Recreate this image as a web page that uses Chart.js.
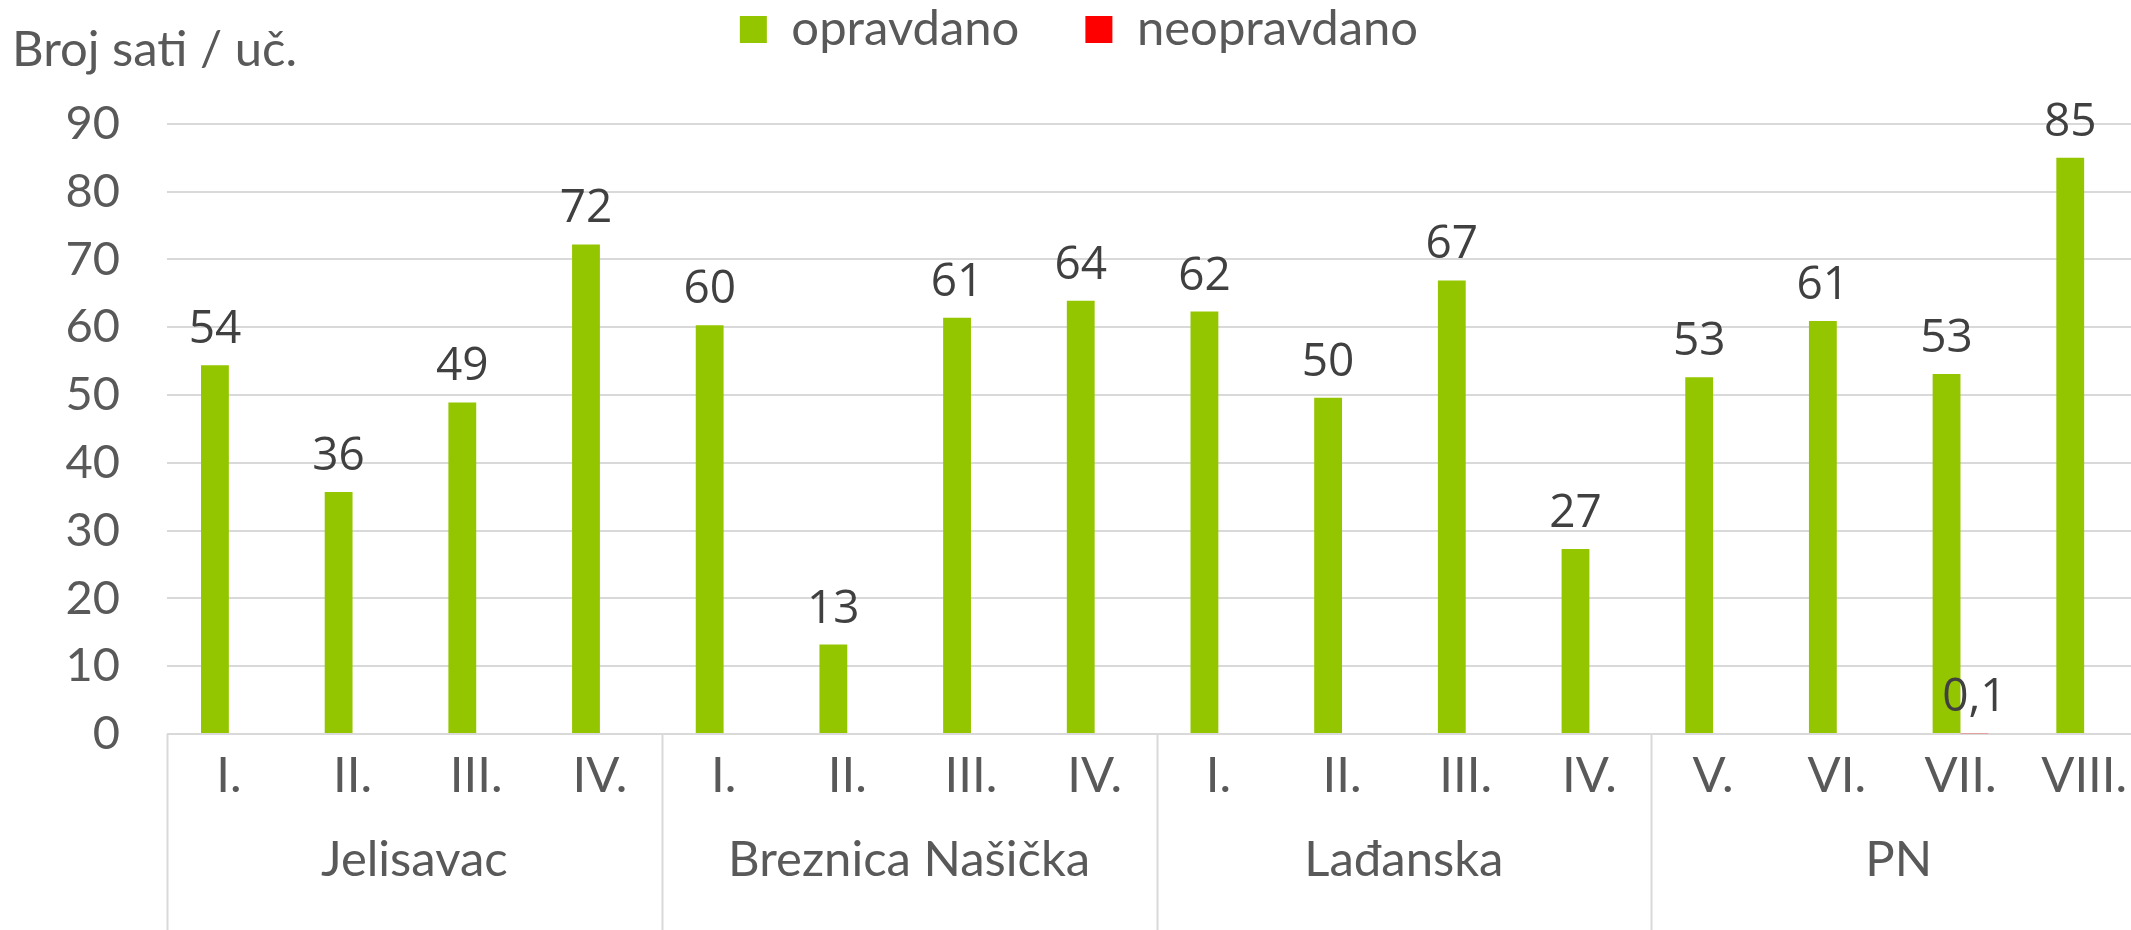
<!DOCTYPE html>
<html>
<head>
<meta charset="utf-8">
<script src="https://cdn.jsdelivr.net/npm/chart.js@4.4.0/dist/chart.umd.min.js"></script>
<style>
    html, body { margin: 0; padding: 0; background: #fff; overflow: hidden; }
    #wrap { width: 2131px; height: 930px; overflow: hidden; }
    canvas { display: block; }
</style>
</head>
<body>
<div id="wrap"><canvas id="izostanciChart" width="2146" height="930"></canvas></div>
<script>
const razredi = ['I.', 'II.', 'III.', 'IV.', 'I.', 'II.', 'III.', 'IV.', 'I.', 'II.', 'III.', 'IV.', 'V.', 'VI.', 'VII.', 'VIII.'];
const skole = ['Jelisavac', 'Breznica Našička', 'Lađanska', 'PN'];
const razredaPoSkoli = [4, 4, 4, 4];
const opravdano = [54.4, 35.7, 48.9, 72.2, 60.3, 13.2, 61.4, 63.9, 62.3, 49.6, 66.9, 27.3, 52.6, 60.9, 53.1, 85.0];
const neopravdano = [null, null, null, null, null, null, null, null, null, null, null, null, null, null, 0.1, null];
const yMax = 90;
const yKorak = 10;

const sivo = '#595959';
const osi = '49px Lato';

function formatVrijednost(v) {
    if (v >= 1) return String(Math.round(v));
    return String(v).replace('.', ',');
}

// vrijednosti iznad stupaca
const oznakePlugin = {
    id: 'oznake',
    afterDatasetsDraw(chart) {
        const ctx = chart.ctx;
        ctx.save();
        ctx.font = '46px "Open Sans"';
        ctx.fillStyle = '#404040';
        ctx.textAlign = 'center';
        ctx.textBaseline = 'alphabetic';
        chart.data.datasets.forEach((ds, di) => {
            const meta = chart.getDatasetMeta(di);
            meta.data.forEach((bar, i) => {
                const v = ds.data[i];
                if (v === null || v === undefined) return;
                ctx.fillText(formatVrijednost(v), bar.x, bar.y - 22);
            });
        });
        ctx.restore();
    }
};

// druga razina x osi: škole i okomite crte
const skolePlugin = {
    id: 'skole',
    afterDraw(chart) {
        const x = chart.scales.x;
        const ctx = chart.ctx;
        const pola = (x.getPixelForValue(1) - x.getPixelForValue(0)) / 2;
        ctx.save();
        ctx.strokeStyle = '#d9d9d9';
        ctx.lineWidth = 2;
        ctx.font = osi;
        ctx.fillStyle = sivo;
        ctx.textAlign = 'center';
        ctx.textBaseline = 'middle';
        let start = 0;
        let desno = 0;
        razredaPoSkoli.forEach((n, i) => {
            const lijevo = x.getPixelForValue(start) - pola;
            desno = x.getPixelForValue(start + n - 1) + pola;
            ctx.beginPath();
            ctx.moveTo(Math.round(lijevo) + 0.5, x.top);
            ctx.lineTo(Math.round(lijevo) + 0.5, chart.height);
            ctx.stroke();
            ctx.fillText(skole[i], (lijevo + desno) / 2, x.top + 126);
            start += n;
        });
        ctx.beginPath();
        ctx.moveTo(Math.round(desno) - 1, x.top);
        ctx.lineTo(Math.round(desno) - 1, chart.height);
        ctx.stroke();
        ctx.restore();
    }
};

const ctx = document.getElementById('izostanciChart').getContext('2d');
new Chart(ctx, {
    type: 'bar',
    data: {
        labels: razredi,
        datasets: [{
            label: 'opravdano',
            data: opravdano,
            backgroundColor: '#94C600',
            borderWidth: 0
        }, {
            label: 'neopravdano',
            data: neopravdano,
            backgroundColor: '#FF0000',
            borderWidth: 0
        }]
    },
    options: {
        responsive: false,
        animation: false,
        devicePixelRatio: 1,
        categoryPercentage: 0.45,
        barPercentage: 1.0,
        layout: {
            padding: { top: -61, left: 12, right: 0, bottom: 0 }
        },
        plugins: {
            legend: {
                position: 'top',
                weight: 1000,
                labels: {
                    boxWidth: 27,
                    boxHeight: 27,
                    padding: 66,
                    color: sivo,
                    font: { family: 'Lato', size: 49 }
                }
            },
            title: {
                display: true,
                text: 'Broj sati / uč.',
                align: 'start',
                position: 'top',
                weight: 500,
                color: sivo,
                font: { family: 'Lato', size: 49, weight: 'normal' },
                padding: { top: -43, bottom: 44 }
            },
            tooltip: { enabled: false }
        },
        scales: {
            x: {
                grid: { display: false },
                border: { display: false },
                ticks: {
                    color: sivo,
                    font: { family: 'Lato', size: 49 },
                    padding: 5,
                    autoSkip: false,
                    maxRotation: 0
                },
                afterFit: function (scale) {
                    scale.height = 196;
                }
            },
            y: {
                min: 0,
                max: yMax,
                grid: { color: '#d9d9d9', lineWidth: 2, drawTicks: false },
                border: { display: false },
                ticks: {
                    stepSize: yKorak,
                    color: sivo,
                    font: { family: 'Lato', size: 47 },
                    padding: 47
                },
                afterFit: function (scale) {
                    scale.width = 155;
                }
            }
        }
    },
    plugins: [oznakePlugin, skolePlugin]
});
</script>
</body>
</html>
